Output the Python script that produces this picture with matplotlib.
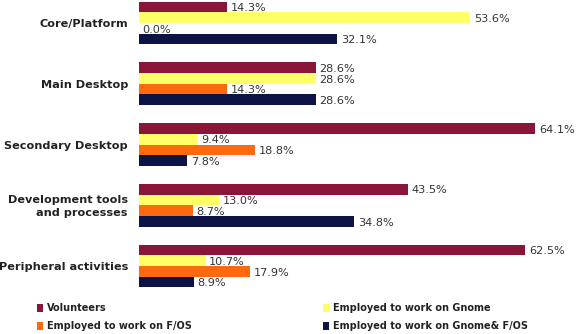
import numpy as np
import matplotlib
matplotlib.use("Agg")
import matplotlib.pyplot as plt
from matplotlib.patches import Rectangle

# Share of each group of contributors working in each area
categories = ["Core/Platform", "Main Desktop", "Secondary Desktop",
              "Development tools\nand processes", "Peripheral activities"]
series = ["Volunteers", "Employed to work on Gnome",
          "Employed to work on F/OS", "Employed to work on Gnome& F/OS"]
volunteers = [14.3, 28.6, 64.1, 43.5, 62.5]
gnome = [53.6, 28.6, 9.4, 13.0, 10.7]
fos = [0.0, 14.3, 18.8, 8.7, 17.9]
gnome_fos = [32.1, 28.6, 7.8, 34.8, 8.9]

colors = ["#8b1538", "#ffff66", "#ff6a0f", "#0c1446"]

fig = plt.figure(figsize=(5.84, 3.34), dpi=100, facecolor="white")
ax = fig.add_axes([139 / 584, 44 / 334, 445 / 584, 290 / 334])
ax.set_xlim(0, 445 / 6.18)
ax.set_ylim(4.395, -0.379)
ax.set_axis_off()

h = 0.176
y = np.arange(len(categories))
values = [volunteers, gnome, fos, gnome_fos]
for k, (vals, col) in enumerate(zip(values, colors)):
    pos = y + (k - 1.5) * h
    ax.barh(pos, vals, height=h, color=col, edgecolor="none")
    for p, v in zip(pos, vals):
        ax.text(v + 0.6, p + 0.02, "%.1f%%" % v, va="center", ha="left",
                fontsize=8.1, color="#333333")

for yi, cat in zip(y, categories):
    ax.text(-1.8, yi + 0.02, cat, ha="right", va="center", fontsize=8.1,
            fontweight="bold", color="#222222", linespacing=1.45)

# Legend, two columns
leg_pos = [(37, 308), (37, 326), (323, 308), (323, 326)]
order = [0, 2, 1, 3]
for (px, py), k in zip(leg_pos, order):
    fig.add_artist(Rectangle((px / 584, 1 - (py + 4) / 334), 6 / 584, 8 / 334,
                             transform=fig.transFigure, facecolor=colors[k],
                             edgecolor="none"))
    fig.text((px + 10) / 584, 1 - py / 334, series[k], ha="left", va="center",
             fontsize=7, fontweight="bold", color="#222222")

fig.savefig("out.png", dpi=100, facecolor="white")
